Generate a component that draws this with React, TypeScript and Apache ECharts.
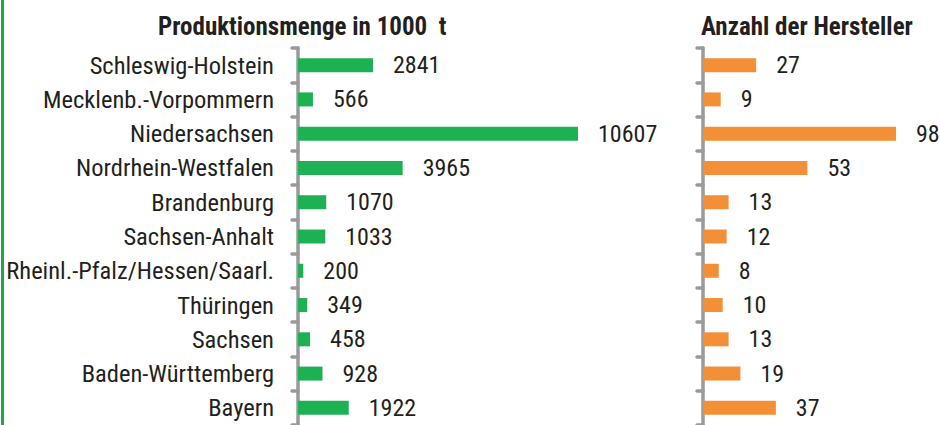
import React, { useEffect, useRef } from "react";
import * as echarts from "echarts";

const categories = [
  "Schleswig-Holstein",
  "Mecklenb.-Vorpommern",
  "Niedersachsen",
  "Nordrhein-Westfalen",
  "Brandenburg",
  "Sachsen-Anhalt",
  "Rheinl.-Pfalz/Hessen/Saarl.",
  "Thüringen",
  "Sachsen",
  "Baden-Württemberg",
  "Bayern",
];
const production = [2841, 566, 10607, 3965, 1070, 1033, 200, 349, 458, 928, 1922];
const producers = [27, 9, 98, 53, 13, 12, 8, 10, 13, 19, 37];
const titleLeft = "Produktionsmenge in 1000  t";
const titleRight = "Anzahl der Hersteller";

const FONT = "'Liberation Sans Narrow', 'Arial Narrow', 'Roboto Condensed', 'Liberation Sans', sans-serif";
const TXT = "#231f20";
const AXIS = "#9a9a9a";

export default function App() {
  const ref = useRef<HTMLDivElement>(null);
  useEffect(() => {
    if (!ref.current) return;
    const chart = echarts.init(ref.current, null, { renderer: "svg" });
    const yAxisBase = {
      type: "category",
      data: categories,
      inverse: true,
      axisLine: { show: true, lineStyle: { color: AXIS, width: 3.5, cap: "round" } },
      axisTick: { show: true, length: 6, lineStyle: { color: AXIS, width: 3.5, cap: "round" } },
    };
    const xAxisBase = {
      type: "value",
      min: 0,
      show: false,
      splitLine: { show: false },
    };
    const labelBase = {
      show: true,
      position: "right",
      distance: 20,
      color: TXT,
      fontFamily: FONT,
      fontSize: 24,
    };
    chart.setOption({
      animation: false,
      textStyle: { fontFamily: FONT },
      title: [
        {
          text: titleLeft,
          left: 153,
          top: 9,
          textStyle: { fontFamily: FONT, fontWeight: "bold", fontSize: 25, color: TXT },
        },
        {
          text: titleRight,
          left: 696,
          top: 9,
          textStyle: { fontFamily: FONT, fontWeight: "bold", fontSize: 25, color: TXT },
        },
      ],
      graphic: [
        { type: "rect", shape: { x: 1, y: 0, width: 3, height: 425 }, style: { fill: "#1aa84e" } },
      ],
      grid: [
        { left: 298, top: 48, width: 280, height: 380 },
        { left: 703, top: 48, width: 193, height: 380 },
      ],
      xAxis: [
        { ...xAxisBase, gridIndex: 0, max: 10607 },
        { ...xAxisBase, gridIndex: 1, max: 98 },
      ],
      yAxis: [
        {
          ...yAxisBase,
          gridIndex: 0,
          axisLabel: { color: TXT, fontFamily: FONT, fontSize: 24.5, margin: 24 },
        },
        { ...yAxisBase, gridIndex: 1, axisLabel: { show: false } },
      ],
      series: [
        {
          type: "bar",
          xAxisIndex: 0,
          yAxisIndex: 0,
          data: production,
          barWidth: 14,
          itemStyle: { color: "#1db154" },
          label: labelBase,
        },
        {
          type: "bar",
          xAxisIndex: 1,
          yAxisIndex: 1,
          data: producers,
          barWidth: 14,
          itemStyle: { color: "#f39037" },
          label: labelBase,
        },
      ],
    });
    return () => chart.dispose();
  }, []);
  return (
    <div
      ref={ref}
      style={{ position: "fixed", left: 0, top: 0, width: 940, height: 425, background: "#fff" }}
    />
  );
}
